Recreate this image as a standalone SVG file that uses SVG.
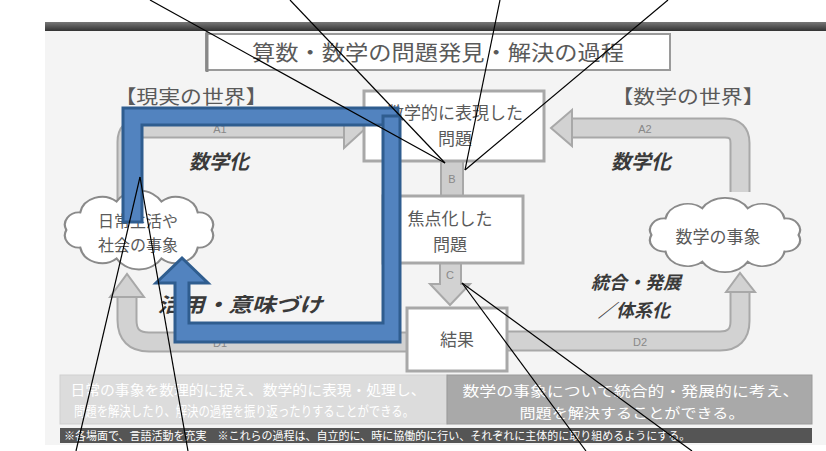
<svg xmlns="http://www.w3.org/2000/svg" width="826" height="451" viewBox="0 0 826 451">
<style>
.t{font-family:"Noto Sans CJK JP","Noto Sans",sans-serif;fill:#5a5a5a;text-anchor:middle}
.em{font-family:"Noto Sans CJK JP","Noto Sans",sans-serif;fill:#3a3a3a;font-weight:bold;font-style:italic;text-anchor:middle}
.lbl{font-family:"Liberation Sans",sans-serif;fill:#888;font-size:11px;text-anchor:middle}
.box{fill:#fff;stroke:#a8a8a8;stroke-width:3}
.band{fill:none;stroke:#a8a8a8;stroke-width:21}
.bandin{fill:none;stroke:#d2d2d2;stroke-width:17}
.head{fill:#d2d2d2;stroke:#a8a8a8;stroke-width:2}
.cloud{fill:#fff;stroke:#8a8a8a;stroke-width:1.4}
.blue{fill:#5283bf;stroke:#2f5d8f;stroke-width:3;stroke-linejoin:miter}
.call{stroke:#000;stroke-width:1.2;fill:none}
.wt{font-family:"Noto Sans CJK JP","Noto Sans",sans-serif;fill:#fff;text-anchor:middle}
</style>
<defs>
<linearGradient id="topbar" x1="0" y1="0" x2="0" y2="1"><stop offset="0" stop-color="#777"/><stop offset="1" stop-color="#333"/></linearGradient>
<path id="cl" d="M96,25 A9,9 0 0,1 87.2,37.9 A14,14 0 0,1 64.2,45.9 A16.5,16.5 0 0,1 35.8,45.9 A14,14 0 0,1 12.8,37.9 A9,9 0 0,1 4,25 A9,9 0 0,1 12.8,12.1 A14,14 0 0,1 35.8,4.1 A16.5,16.5 0 0,1 64.2,4.1 A14,14 0 0,1 87.2,12.1 A9,9 0 0,1 96,25 Z"/>
</defs>
<rect width="826" height="451" fill="#fff"/>
<g id="photo">
<rect x="45" y="26" width="781" height="419" fill="#f4f4f4"/>
<rect x="45" y="22" width="781" height="9" fill="url(#topbar)"/>
</g>
<g id="title">
<rect x="206" y="34" width="464" height="36" fill="#fff" stroke="#9a9a9a" stroke-width="2"/>
<line x1="207" y1="32" x2="207" y2="72" stroke="#888" stroke-width="3"/>
<text class="t" x="438" y="60" font-size="21" textLength="372" lengthAdjust="spacingAndGlyphs">算数・数学の問題発見・解決の過程</text>
</g>
<g id="world-labels">
<text class="t" x="191" y="104" font-size="19" textLength="153" lengthAdjust="spacingAndGlyphs">【現実の世界】</text>
<text class="t" x="688" y="104" font-size="19" textLength="153" lengthAdjust="spacingAndGlyphs">【数学の世界】</text>
</g>
<g id="connectors">
<g id="A1">
<path class="band" d="M127,205 V142 Q127,128 141,128 H345"/>
<path class="bandin" d="M127,205 V142 Q127,128 141,128 H346"/>
<polygon class="head" points="344,108 366,128 344,148"/>
<text class="lbl" x="220" y="133">A1</text>
</g>
<g id="A2">
<path class="band" d="M740,192 V143 Q740,128 725,128 H571"/>
<path class="bandin" d="M740,192 V143 Q740,128 725,128 H570"/>
<polygon class="head" points="572,110 551,128 572,146"/>
<text class="lbl" x="645" y="133">A2</text>
</g>
<g id="D1">
<path class="band" d="M407,342 H149 Q127,342 127,320 V297"/>
<path class="bandin" d="M408,342 H149 Q127,342 127,320 V296"/>
<polygon class="head" points="110,297 127,274 144,297"/>
<text class="lbl" x="220" y="347">D1</text>
</g>
<g id="D2">
<path class="band" d="M507,341 H720 Q740,341 740,321 V292"/>
<path class="bandin" d="M506,341 H720 Q740,341 740,321 V291"/>
<polygon class="head" points="726,292 740,273 755,292"/>
<text class="lbl" x="640" y="346">D2</text>
</g>
<g id="B">
<rect x="441" y="160" width="22" height="36" fill="#cdcdcd" stroke="#a8a8a8" stroke-width="2"/>
<text class="lbl" x="452" y="183">B</text>
</g>
<g id="C">
<polygon class="head" points="440,263 461,263 461,284 470,284 450,305 430,284 440,284"/>
<text class="lbl" x="450" y="279">C</text>
</g>
</g>
<g id="node-math-problem">
<rect class="box" x="364" y="91" width="180" height="70"/>
<text class="t" x="455" y="119" font-size="17">数学的に表現した</text>
<text class="t" x="455" y="145" font-size="17">問題</text>
</g>
<g id="node-focused-problem">
<rect class="box" x="383" y="196" width="140" height="67"/>
<text class="t" x="450" y="225" font-size="17">焦点化した</text>
<text class="t" x="450" y="251" font-size="17">問題</text>
</g>
<g id="node-result">
<rect class="box" x="407" y="308" width="100" height="63"/>
<text class="t" x="457" y="346" font-size="17">結果</text>
</g>
<g id="node-real-cloud">
<use href="#cl" class="cloud" transform="translate(60,196) scale(1.58,1.36)"/>
<text class="t" x="138" y="227" font-size="16">日常生活や</text>
<text class="t" x="138" y="251" font-size="16">社会の事象</text>
</g>
<g id="node-math-cloud">
<use href="#cl" class="cloud" transform="translate(645,203) scale(1.6,1.28)"/>
<text class="t" x="718" y="243" font-size="17">数学の事象</text>
</g>
<g id="emphasis">
<text class="em" x="219" y="169" font-size="20">数学化</text>
<text class="em" x="641" y="169" font-size="20">数学化</text>
<text class="em" x="240" y="312" font-size="20" textLength="165" lengthAdjust="spacingAndGlyphs">活用・意味づけ</text>
<text class="em" x="636" y="289" font-size="18">統合・発展</text>
<text class="em" x="634" y="317" font-size="18">／体系化</text>
</g>
<g id="bottom-notes">
<rect x="60" y="375" width="387" height="49" fill="#dcdcdc" stroke="#cfcfcf"/>
<text class="wt" x="248" y="395" font-size="14" textLength="355" lengthAdjust="spacingAndGlyphs">日常の事象を数理的に捉え、数学的に表現・処理し、</text>
<text class="wt" x="244" y="416" font-size="14" textLength="340" lengthAdjust="spacingAndGlyphs">問題を解決したり、解決の過程を振り返ったりすることができる。</text>
<rect x="447" y="375" width="365" height="49" fill="#a9a9a9" stroke="#9a9a9a"/>
<text class="wt" x="631" y="396" font-size="14" textLength="337" lengthAdjust="spacingAndGlyphs">数学の事象について統合的・発展的に考え、</text>
<text class="wt" x="632" y="418" font-size="14" textLength="225" lengthAdjust="spacingAndGlyphs">問題を解決することができる。</text>
<rect x="60" y="428" width="752" height="15" fill="#555"/>
<text class="wt" x="64" y="440" font-size="11" style="text-anchor:start">※各場面で、言語活動を充実　※これらの過程は、自立的に、時に協働的に行い、それぞれに主体的に取り組めるようにする。</text>
</g>
<g id="blue-overlay">
<polygon class="blue" points="123,108 398,108 398,125 142,125 142,222 123,222"/>
<polygon class="blue" points="383,116 400,116 400,342 175,342 175,283 156,283 182,258 208,283 189,283 189,323 383,323"/>
</g>
<g id="callout-lines">
<line class="call" x1="150" y1="0" x2="445" y2="163"/>
<line class="call" x1="290" y1="0" x2="445" y2="163"/>
<line class="call" x1="500" y1="0" x2="465" y2="170"/>
<line class="call" x1="668" y1="0" x2="465" y2="170"/>
<line class="call" x1="76" y1="451" x2="140" y2="177"/>
<line class="call" x1="188" y1="451" x2="140" y2="177"/>
<line class="call" x1="586" y1="451" x2="462" y2="283"/>
<line class="call" x1="692" y1="451" x2="462" y2="283"/>
</g>
</svg>
